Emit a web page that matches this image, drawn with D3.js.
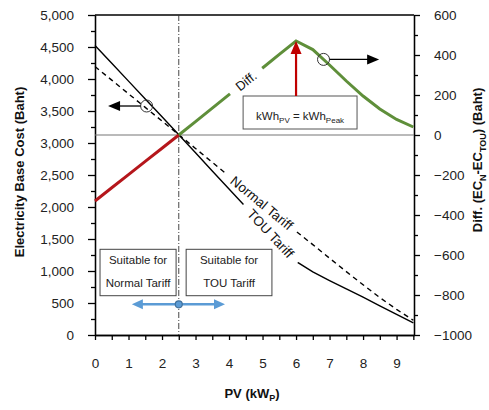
<!DOCTYPE html>
<html><head><meta charset="utf-8">
<script src="https://cdn.jsdelivr.net/npm/d3@7"></script>
<style>
body{margin:0;background:#fff;}
text{font-family:"Liberation Sans",Arial,sans-serif;}
</style></head>
<body><svg id="c" width="489" height="410"></svg>
<script>
// ---- data ----
const pv      = [0,0.5,1,1.5,2,2.5,3,3.5,4,4.5,5,5.5,6,6.5,7,7.5,8,8.5,9,9.5];
const normal  = [4195,3982,3769,3556,3343,3130,2914,2698,2483,2267,2051,1836,1620,1412,1200,990,785,585,400,230];
const tou     = [4525,4246,3967,3688,3409,3130,2847,2564,2281,1999,1716,1433,1150,985,850,720,590,455,322,190];
const diff    = [-330,-264,-198,-132,-66,0,67,134,202,268,335,403,470,427,350,270,195,130,78,40];
const leftTicks  = [0,500,1000,1500,2000,2500,3000,3500,4000,4500,5000];
const rightTicks = [-1000,-800,-600,-400,-200,0,200,400,600];
const xTicks     = [0,1,2,3,4,5,6,7,8,9];
const crossPV = 2.5, peakPV = 6;

const svg = d3.select("#c");
const L=95,R=414,T=15,B=335;
const x  = d3.scaleLinear().domain([0,9.52]).range([L,R]);
const yL = d3.scaleLinear().domain([0,5000]).range([B,T]);
const yR = d3.scaleLinear().domain([-1000,600]).range([B,T]);
const txt = "#222";

// axes
function styleAxis(g){g.selectAll("path,line").attr("stroke","#000").attr("stroke-width",1.3);
  g.selectAll("text").attr("fill",txt).attr("font-size",13.5).attr("font-family","Liberation Sans, Arial, sans-serif");}
svg.append("g").attr("transform",`translate(${L},0)`)
  .call(d3.axisLeft(yL).tickValues(d3.range(250,5000,500)).tickSize(4).tickFormat("").tickSizeOuter(0)).call(styleAxis);
svg.append("g").attr("transform",`translate(${L},0)`)
  .call(d3.axisLeft(yL).tickValues(leftTicks).tickSize(7).tickPadding(14).tickFormat(d3.format(",")).tickSizeOuter(0)).call(styleAxis);
svg.append("g").attr("transform",`translate(${R},0)`)
  .call(d3.axisRight(yR).tickValues(d3.range(-900,600,200)).tickSize(4).tickFormat("").tickSizeOuter(0)).call(styleAxis);
svg.append("g").attr("transform",`translate(${R},0)`)
  .call(d3.axisRight(yR).tickValues(rightTicks).tickSize(6).tickPadding(14).tickFormat(d3.format("d")).tickSizeOuter(0)).call(styleAxis);
svg.append("g").attr("transform",`translate(0,${B})`)
  .call(d3.axisBottom(x).tickValues(d3.range(0.5,9.6,1)).tickSize(5).tickFormat("").tickSizeOuter(0)).call(styleAxis);
svg.append("g").attr("transform",`translate(0,${B})`)
  .call(d3.axisBottom(x).tickValues(xTicks).tickSize(5).tickPadding(18).tickFormat(d3.format("d")).tickSizeOuter(0)).call(styleAxis);
svg.append("line").attr("x1",L).attr("x2",R).attr("y1",T).attr("y2",T).attr("stroke","#000").attr("stroke-width",1.3);

// zero line of right axis, vertical dash-dot
svg.append("line").attr("x1",L).attr("x2",R).attr("y1",yR(0)).attr("y2",yR(0)).attr("stroke","#777").attr("stroke-width",1.2);
svg.append("line").attr("x1",x(crossPV)).attr("x2",x(crossPV)).attr("y1",T).attr("y2",B)
  .attr("stroke","#333").attr("stroke-width",0.9).attr("stroke-dasharray","6,2,1,2");

const idx = d3.range(pv.length);
function lineOf(arr, ys){return d3.line().x(i=>x(pv[i])).y(i=>ys(arr[i]));}
function interp(arr,xv){return d3.scaleLinear().domain(pv).range(arr)(xv);}
function gapLabel(arr, ys, x0, x1, label, size, h){
  const p0=[x(x0),ys(interp(arr,x0))], p1=[x(x1),ys(interp(arr,x1))];
  const cx=(p0[0]+p1[0])/2, cy=(p0[1]+p1[1])/2;
  const len=Math.hypot(p1[0]-p0[0],p1[1]-p0[1]);
  const ang=Math.atan2(p1[1]-p0[1],p1[0]-p0[0])*180/Math.PI;
  const g=svg.append("g").attr("transform",`translate(${cx},${cy}) rotate(${ang})`);
  g.append("rect").attr("x",-len/2).attr("y",-h/2).attr("width",len).attr("height",h).attr("fill","#fff");
  g.append("text").attr("text-anchor","middle").attr("dy","0.35em").attr("font-size",size).attr("fill","#111").text(label);
}

// Normal tariff (dashed)
svg.append("path").datum(idx).attr("d",lineOf(normal,yL)).attr("fill","none").attr("stroke","#000")
  .attr("stroke-width",1.4).attr("stroke-dasharray","5,4");
gapLabel(normal,yL,3.93,6.02,"Normal Tariff",13.5,9);
// TOU tariff (solid)
svg.append("path").datum(idx).attr("d",lineOf(tou,yL)).attr("fill","none").attr("stroke","#000").attr("stroke-width",1.4);
gapLabel(tou,yL,4.43,6.05,"TOU Tariff",13.5,9);

// Diff line: red up to crossing, green after
const iRed = idx.filter(i=>pv[i]<=crossPV), iGreen = idx.filter(i=>pv[i]>=crossPV);
svg.append("path").datum(iRed).attr("d",lineOf(diff,yR)).attr("fill","none").attr("stroke","#b5161b").attr("stroke-width",3);
svg.append("path").datum(iGreen).attr("d",lineOf(diff,yR)).attr("fill","none").attr("stroke","#5f8f3a").attr("stroke-width",3);
gapLabel(diff,yR,4.03,4.99,"Diff.",13,10);

// kWh box + red arrow
const bx0=x(4.42), bx1=x(7.82), by0=yR(195), by1=yR(30);
svg.append("rect").attr("x",bx0).attr("y",by0).attr("width",bx1-bx0).attr("height",by1-by0)
  .attr("fill","#fff").attr("stroke","#555").attr("stroke-width",1);
const kt = svg.append("text").attr("x",(bx0+bx1)/2).attr("y",by1-9).attr("text-anchor","middle").attr("font-size",11.5).attr("fill","#222");
kt.append("tspan").text("kWh");
kt.append("tspan").attr("font-size",8).attr("dy",3).text("PV");
kt.append("tspan").attr("dy",-3).text(" = kWh");
kt.append("tspan").attr("font-size",8).attr("dy",3).text("Peak");
const pkx=x(peakPV), pky=yR(interp(diff,peakPV));
svg.append("line").attr("x1",pkx).attr("x2",pkx).attr("y1",by0).attr("y2",pky+10).attr("stroke","#c00000").attr("stroke-width",2.2);
svg.append("path").attr("d",`M${pkx},${pky} L${pkx-5.5},${pky+13} L${pkx+5.5},${pky+13}Z`).attr("fill","#c00000");

// circle + arrow markers
function circArrow(cx,cy,tx){
  svg.append("circle").attr("cx",cx).attr("cy",cy).attr("r",6).attr("fill","none").attr("stroke","#333").attr("stroke-width",1);
  const dir = tx>cx?1:-1;
  svg.append("line").attr("x1",cx+dir*6).attr("x2",tx-dir*10).attr("y1",cy).attr("y2",cy).attr("stroke","#000").attr("stroke-width",1.3);
  svg.append("path").attr("d",`M${tx},${cy} L${tx-dir*12},${cy-5} L${tx-dir*12},${cy+5}Z`).attr("fill","#000");
}
circArrow(x(1.54),yL(3578),x(0.39));
circArrow(x(6.82),yR(378),x(8.48));

// suitable boxes
function sbox(x0,x1,l1,l2){
  const y0=yL(1339), y1=yL(614);
  svg.append("rect").attr("x",x(x0)).attr("y",y0).attr("width",x(x1)-x(x0)).attr("height",y1-y0)
    .attr("fill","#fff").attr("stroke","#444").attr("stroke-width",1);
  const cx=(x(x0)+x(x1))/2;
  svg.append("text").attr("x",cx).attr("y",y0+15).attr("text-anchor","middle").attr("font-size",11.5).attr("fill","#222").text(l1);
  svg.append("text").attr("x",cx).attr("y",y0+38).attr("text-anchor","middle").attr("font-size",11.5).attr("fill","#222").text(l2);
}
sbox(0.15,2.42,"Suitable for","Normal Tariff");
sbox(2.72,5.28,"Suitable for","TOU Tariff");

// blue double arrow
const ay=yL(480), blue="#5b9bd5";
svg.append("line").attr("x1",x(1.1)+10).attr("x2",x(3.88)-10).attr("y1",ay).attr("y2",ay).attr("stroke",blue).attr("stroke-width",2.5);
svg.append("path").attr("d",`M${x(1.1)},${ay} L${x(1.1)+11},${ay-5} L${x(1.1)+11},${ay+5}Z`).attr("fill",blue);
svg.append("path").attr("d",`M${x(3.88)},${ay} L${x(3.88)-11},${ay-5} L${x(3.88)-11},${ay+5}Z`).attr("fill",blue);
svg.append("circle").attr("cx",x(crossPV)).attr("cy",ay).attr("r",3.5).attr("fill",blue).attr("stroke","#41719c").attr("stroke-width",1.2);

// axis titles
svg.append("text").attr("transform","translate(24,172) rotate(-90)").attr("text-anchor","middle")
  .attr("font-size",13).attr("font-weight","bold").attr("fill","#111").text("Electricity Base Cost (Baht)");
const rt = svg.append("text").attr("transform","translate(482,160) rotate(-90)").attr("text-anchor","middle")
  .attr("font-size",13).attr("font-weight","bold").attr("fill","#111");
rt.append("tspan").text("Diff. (EC");
rt.append("tspan").attr("font-size",9).attr("dy",4).text("N");
rt.append("tspan").attr("dy",-4).text("-EC");
rt.append("tspan").attr("font-size",9).attr("dy",4).text("TOU");
rt.append("tspan").attr("dy",-4).text(")  (Baht)");
const xt = svg.append("text").attr("x",252).attr("y",398).attr("text-anchor","middle")
  .attr("font-size",13).attr("font-weight","bold").attr("fill","#111");
xt.append("tspan").text("PV (kW");
xt.append("tspan").attr("font-size",9).attr("dy",3).text("P");
xt.append("tspan").attr("dy",-3).text(")");
</script></body></html>
